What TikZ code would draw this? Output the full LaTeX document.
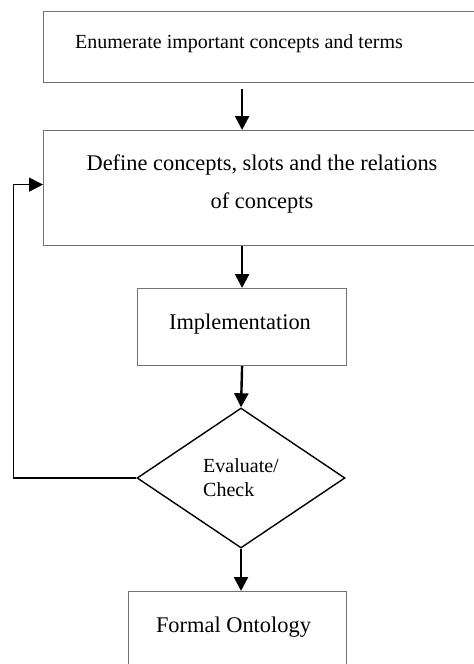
\documentclass[tikz,border=0pt]{standalone}
\usepackage{fontspec}
\setmainfont{Liberation Serif}
\usetikzlibrary{arrows.meta,calc,shapes.geometric}
\tikzset{
  >={Triangle[length=7pt,width=7pt]},
  box/.style={draw=black!55,line width=0.6pt,fill=white,inner sep=0pt,anchor=north west},
  decision/.style={diamond,draw=black,line width=0.7pt,inner sep=0pt,minimum width=104pt,minimum height=70pt,align=left,font=\fontsize{10}{12}\selectfont},
  txt/.style={anchor=base,inner sep=0pt,align=center,font=\fontsize{11.2}{19}\selectfont},
  arrow/.style={->,line width=1.2pt},
  loop/.style={->,line width=0.7pt},
}

\begin{document}
\begin{tikzpicture}[x=0.5pt,y=0.5pt]
  \useasboundingbox (0,0) rectangle (474,-664);
  \clip (0,0) rectangle (474,-664);
  \node[box,minimum width=230pt,minimum height=35.5pt] (enum) at (43,-11) {};
  \node[box,minimum width=230pt,minimum height=57.5pt] (define) at (43,-130) {};
  \node[box,minimum width=104.5pt,minimum height=38.5pt] (impl) at (137,-288) {};
  \node[decision] (check) at (241,-478) {Evaluate/\\Check};
  \node[box,minimum width=109pt,minimum height=50pt] (formal) at (128,-591) {};
  \node[txt,font=\fontsize{10}{12}\selectfont] (enumtxt) at (239,-48) {Enumerate important concepts and terms};
  \node[txt] (definetxt) at (262,-208) {Define concepts, slots and the relations\\of concepts};
  \node[txt] (impltxt) at (240,-329) {Implementation};
  \node[txt] (formaltxt) at (233.5,-632) {Formal Ontology};
  \draw[arrow] ($(enum.south -| impl)+(0,-6)$) -- (define.north -| impl);
  \draw[arrow] (define.south -| impl) -- (impl.north);
  \draw[arrow] (impl.south) -- (check.north);
  \draw[arrow] (check.south) -- (check.south |- formal.north);
  \draw[loop] (check.west) -- ++(-123,0) |- ($(define.west)+(0,3.5)$);
\end{tikzpicture}
\end{document}
